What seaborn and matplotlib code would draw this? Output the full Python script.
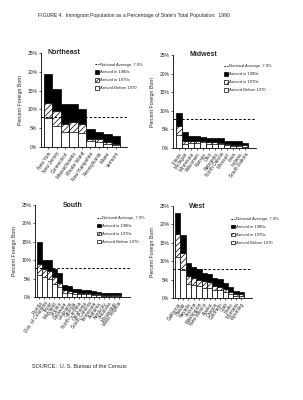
import matplotlib
matplotlib.use("Agg")
import matplotlib.pyplot as plt
import seaborn as sns
from matplotlib.lines import Line2D
from matplotlib.patches import Patch

# ---------------- data (percent of state population, segments) ----------------
ne_states = ["New York", "New Jersey", "Connecticut", "Massachusetts", "Rhode Island",
             "New Hampshire", "Pennsylvania", "Maine", "Vermont"]
ne_before70 = [7.7, 5.7, 3.9, 4.1, 3.7, 1.6, 1.2, 0.7, 0.5]
ne_70s = [4.0, 3.8, 2.2, 2.5, 2.4, 0.5, 0.9, 0.5, 0.4]
ne_80s = [7.7, 5.9, 5.4, 4.9, 3.9, 2.7, 2.0, 2.2, 2.1]

mw_states = ["Illinois", "Michigan", "Minnesota", "Wisconsin", "Kansas", "Ohio",
             "Nebraska", "North Dakota", "Missouri", "Iowa", "Indiana", "South Dakota"]
mw_before70 = [3.6, 1.2, 1.4, 1.4, 1.5, 1.2, 1.2, 1.0, 0.7, 0.6, 0.6, 0.4]
mw_70s = [2.4, 0.8, 0.6, 0.6, 0.5, 0.4, 0.4, 0.4, 0.3, 0.3, 0.3, 0.3]
mw_80s = [3.5, 2.2, 1.2, 1.1, 1.0, 1.2, 1.2, 1.3, 1.0, 0.9, 0.9, 0.7]

s_states = ["Florida", "Dist. of Columbia", "Texas", "Maryland", "Virginia", "Delaware",
            "Louisiana", "Georgia", "North Carolina", "Oklahoma", "South Carolina",
            "Tennessee", "Alabama", "Kentucky", "Arkansas", "Mississippi", "West Virginia"]
s_before70 = [5.9, 5.5, 4.8, 3.6, 2.6, 1.1, 1.0, 0.8, 0.8, 0.7, 0.7, 0.6, 0.5, 0.4, 0.4, 0.35, 0.35]
s_70s = [3.2, 2.2, 2.2, 1.7, 1.2, 0.7, 0.6, 0.5, 0.4, 0.4, 0.3, 0.2, 0.2, 0.2, 0.2, 0.15, 0.15]
s_80s = [5.9, 2.3, 3.0, 2.4, 2.6, 1.4, 1.3, 1.0, 1.0, 0.9, 0.8, 0.7, 0.6, 0.6, 0.5, 0.5, 0.5]

w_states = ["California", "Hawaii", "Nevada", "Arizona", "Washington", "New Mexico",
            "Alaska", "Oregon", "Colorado", "Utah", "Idaho", "Montana", "Wyoming"]
w_before70 = [11.2, 7.5, 3.9, 3.5, 3.2, 2.8, 2.8, 2.3, 2.1, 1.6, 1.0, 0.6, 0.5]
w_70s = [6.3, 4.6, 2.1, 1.9, 1.6, 1.8, 1.6, 0.9, 0.9, 0.9, 0.6, 0.5, 0.5]
w_80s = [5.5, 5.0, 3.5, 3.1, 3.0, 2.2, 2.1, 2.3, 2.2, 1.6, 1.4, 0.8, 0.7]

national_avg = 7.9
y_ticks = [0, 5, 10, 15, 20, 25]
y_ticklabels = ["0%", "5%", "10%", "15%", "20%", "25%"]
legend_labels = ["National Average, 7.9%", "Arrived in 1980s", "Arrived in 1970s", "Arrived Before 1970"]

# ---------------- style ----------------
sns.set_theme(style="white")
plt.rcParams["font.family"] = ["Liberation Sans", "DejaVu Sans"]
plt.rcParams["hatch.linewidth"] = 0.5

W, H = 303, 400
fig = plt.figure(figsize=(W / 100, H / 100), dpi=100)
fig.patch.set_facecolor("white")

# pixel layout: (axes left, right, top, bottom, bars left, bars right), title x-frac, legend x, legend y
panels = [
    ("Northeast", ne_states, ne_before70, ne_70s, ne_80s, (41, 127, 53, 147, 44, 120), 0.27, 0.63, 0.90),
    ("Midwest", mw_states, mw_before70, mw_70s, mw_80s, (173, 256, 55, 148, 176, 248), 0.36, 0.62, 0.90),
    ("South", s_states, s_before70, s_70s, s_80s, (35, 130, 205, 297, 37, 121), 0.40, 0.65, 0.88),
    ("West", w_states, w_before70, w_70s, w_80s, (173, 252, 206, 298, 175, 244), 0.31, 0.74, 0.88),
]

for title, states, b70, s70, s80, px, tx, lx, ly in panels:
    l, r, t, b, bl, br = px
    ax = fig.add_axes([l / W, 1 - b / H, (r - l) / W, (b - t) / H])
    n = len(states)
    cum70 = [a + c for a, c in zip(b70, s70)]
    total = [a + c for a, c in zip(cum70, s80)]

    sns.barplot(x=states, y=total, order=states, color="black", saturation=1, width=1.0,
                edgecolor="black", linewidth=0.5, errorbar=None, ax=ax)
    k = len(ax.patches)
    sns.barplot(x=states, y=cum70, order=states, color="white", saturation=1, width=1.0,
                edgecolor="black", linewidth=0.5, errorbar=None, ax=ax)
    for p in ax.patches[k:]:
        p.set_hatch("//////")
    sns.barplot(x=states, y=b70, order=states, color="white", saturation=1, width=1.0,
                edgecolor="black", linewidth=0.5, errorbar=None, ax=ax)

    unit = (br - bl) / n
    ax.set_xlim(-0.5 - (bl - l) / unit, n - 0.5 + (r - br) / unit)
    ax.set_ylim(0, 25)
    ax.axhline(national_avg, color="black", lw=0.7, ls=(0, (2.5, 2)), zorder=5)

    ax.set_yticks(y_ticks)
    ax.set_yticklabels(y_ticklabels, fontsize=3.6)
    ax.set_xticks(range(n))
    ax.set_xticklabels(states, rotation=55, ha="right", rotation_mode="anchor", fontsize=3.4)
    ax.tick_params(axis="both", which="both", length=1.5, width=0.5, pad=1.2,
                   left=True, bottom=True, direction="out")
    ax.set_xlabel("")
    ax.set_ylabel("Percent Foreign Born", fontsize=3.8, labelpad=3)
    for side in ["top", "right"]:
        ax.spines[side].set_visible(False)
    for side in ["left", "bottom"]:
        ax.spines[side].set_linewidth(0.6)
        ax.spines[side].set_color("black")
    ax.text(tx, 1.0, title, transform=ax.transAxes, ha="center", va="center",
            fontsize=5, fontweight="bold")

    handles = [
        Line2D([], [], color="black", lw=0.7, ls=(0, (1.5, 1.5))),
        Patch(facecolor="black", edgecolor="black", lw=0.5),
        Patch(facecolor="white", edgecolor="black", lw=0.5, hatch="//////"),
        Patch(facecolor="white", edgecolor="black", lw=0.5),
    ]
    leg = ax.legend(handles, legend_labels, loc="upper left", bbox_to_anchor=(lx, ly),
                    frameon=False, fontsize=3.0, handlelength=0.9, handleheight=0.9,
                    handletextpad=0.3, labelspacing=0.9, borderpad=0, borderaxespad=0)
    leg.set_zorder(10)

fig.text(38 / W, 1 - 15 / H,
         "FIGURE 4.  Immigrant Population as a Percentage of State's Total Population:  1990",
         fontsize=3.7, ha="left", va="center")
fig.text(32 / W, 1 - 367 / H, "SOURCE:  U. S. Bureau of the Census",
         fontsize=4.0, ha="left", va="center")

fig.savefig("out.png", dpi=100, facecolor="white")
